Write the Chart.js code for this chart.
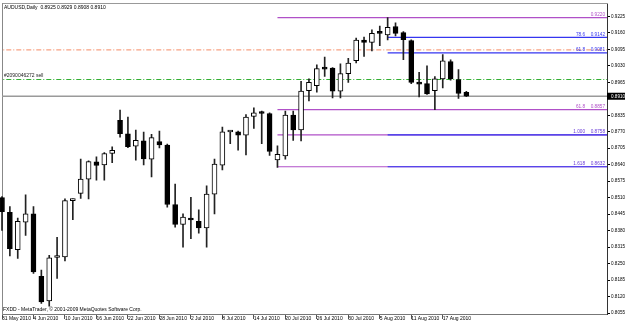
<!DOCTYPE html>
<html><head><meta charset="utf-8">
<script src="https://cdn.jsdelivr.net/npm/chart.js@4.4.0/dist/chart.umd.min.js"></script>
<style>html,body{margin:0;padding:0;background:#fff;overflow:hidden}</style>
</head><body>
<canvas id="c" width="625" height="323"></canvas>
<script>
// ---- data ----
const symbolTitle = 'AUDUSD,Daily';
const headerOHLC = [0.8925, 0.8929, 0.8908, 0.8910];
const copyrightText = 'FXDD - MetaTrader, \u00A9 2001-2009 MetaQuotes Software Corp.';

const opens  = [0.8510,0.8452,0.8305,0.8413,0.8446,0.8200,0.8103,0.8274,0.8276,0.8498,
                0.8527,0.8583,0.8651,0.8639,0.8684,0.8815,0.8762,0.8713,0.8734,0.8662,
                0.8731,0.8717,0.8483,0.8404,0.8426,0.8417,0.8391,0.8524,0.8638,0.8769,
                0.8770,0.8756,0.8830,0.8845,0.8842,0.8659,0.8675,0.8836,0.8777,0.8932,
                0.8952,0.9024,0.9021,0.8930,0.8999,0.9050,0.9132,0.9122,0.9165,0.9152,
                0.9185,0.9161,0.9130,0.8965,0.8960,0.8932,0.8978,0.9047,0.8976,0.8925];
const highs  = [0.8514,0.8475,0.8429,0.8521,0.8475,0.8224,0.8283,0.8354,0.8505,0.8505,
                0.8662,0.8655,0.8671,0.8688,0.8710,0.8855,0.8828,0.8777,0.8769,0.8760,
                0.8773,0.8721,0.8564,0.8446,0.8511,0.8462,0.8557,0.8662,0.8788,0.8775,
                0.8773,0.8838,0.8864,0.8851,0.8845,0.8714,0.8851,0.8851,0.8969,0.8979,
                0.9034,0.9064,0.9023,0.9038,0.9060,0.9139,0.9143,0.9172,0.9187,0.9220,
                0.9200,0.9165,0.9133,0.9004,0.9030,0.8988,0.9074,0.9054,0.9015,0.8929];
const lows   = [0.8381,0.8280,0.8270,0.8361,0.8211,0.8093,0.8082,0.8191,0.8260,0.8423,
                0.8507,0.8505,0.8579,0.8579,0.8648,0.8749,0.8707,0.8658,0.8639,0.8592,
                0.8706,0.8472,0.8394,0.8315,0.8348,0.8370,0.8315,0.8446,0.8619,0.8723,
                0.8697,0.8679,0.8783,0.8723,0.8677,0.8629,0.8662,0.8736,0.8734,0.8892,
                0.8926,0.8988,0.8903,0.8903,0.8965,0.9041,0.9067,0.9089,0.9109,0.9132,
                0.9148,0.9054,0.8960,0.8907,0.8917,0.8857,0.8943,0.8973,0.8901,0.8908];
const closes = [0.8455,0.8309,0.8417,0.8446,0.8217,0.8099,0.8273,0.8278,0.8498,0.8501,
                0.8583,0.8652,0.8637,0.8684,0.8697,0.8762,0.8711,0.8736,0.8663,0.8747,
                0.8718,0.8483,0.8404,0.8433,0.8422,0.8391,0.8524,0.8642,0.8770,0.8772,
                0.8756,0.8828,0.8845,0.8842,0.8692,0.8681,0.8836,0.8777,0.8930,0.8965,
                0.9019,0.9017,0.8930,0.8999,0.9041,0.9132,0.9122,0.9158,0.9158,0.9182,
                0.9158,0.9133,0.8965,0.8958,0.8919,0.8979,0.9050,0.8978,0.8921,0.8910];

const tickIndex  = [0,4,8,12,16,20,24,28,32,36,40,44,48,52,56];
const tickLabels = ['31 May 2010','4 Jun 2010','10 Jun 2010','16 Jun 2010','22 Jun 2010','28 Jun 2010',
                    '2 Jul 2010','8 Jul 2010','14 Jul 2010','20 Jul 2010','26 Jul 2010','30 Jul 2010',
                    '5 Aug 2010','11 Aug 2010','17 Aug 2010'];
const priceTicks = [0.9225,0.9160,0.9095,0.9030,0.8965,0.8835,0.8770,0.8705,0.8640,0.8575,
                    0.8510,0.8445,0.8380,0.8315,0.8250,0.8185,0.8120,0.8055];

// Fibonacci objects
const fibPurpleLevels = [0.9220, 0.8857, 0.8758, 0.8632];
const fibPurpleStart  = 35;
const fibBlueLevels   = [0.9142, 0.9081, 0.8758, 0.8632];
const fibBlueStart    = 49;
const fibLabelValues  = [0.9220, 0.9142, 0.9081, 0.8857, 0.8758, 0.8632];
const fibLabelTags    = ['', '78.6', '61.8', '61.8', '1.000', '1.618'];
const fibLabelTexts   = ['0.9220', '0.9142', '0.9081', '0.8857', '0.8758', '0.8632'];

// order / level lines
const orderLevel = 0.8976;
const orderText  = '#2090046272 sell';
const stopLevel  = 0.9093;
const bidLevel   = 0.8910;
const bidText    = '0.8910';

// ---- styles ----
const FONT = '"Liberation Sans", Arial, sans-serif';
const PURPLE = '#B050C8';
const BLUE = '#3535F0';
const fibLabelColors = [PURPLE, BLUE, BLUE, PURPLE, '#6a3ad8', '#6a3ad8'];
const X_MIN = 0, X_MAX = 76.87, X_END = 80;

const idx = opens.map((_, i) => i);
const bodyData = idx.map(i => ({x: i, y: [opens[i], closes[i]]}));
const wickData = idx.map(i => ({x: i, y: [lows[i], highs[i]]}));
const bodyFill = idx.map(i => closes[i] >= opens[i] ? '#ffffff' : '#000000');

function hline(v, x0, x1, color, width, dash, order) {
  return {type: 'line', data: [{x: x0, y: v}, {x: x1, y: v}], borderColor: color,
          borderWidth: width, borderDash: dash || [], pointRadius: 0, tension: 0,
          fill: false, order: order};
}

const datasets = [
  {type: 'bar', data: bodyData, backgroundColor: bodyFill, borderColor: '#000',
   borderWidth: 1, borderSkipped: false, barThickness: 5, minBarLength: 2,
   grouped: false, clip: 2, order: 0},
  {type: 'bar', data: wickData, backgroundColor: '#222', borderWidth: 0,
   barThickness: 1, grouped: false, clip: 2, order: 1},
];
fibPurpleLevels.forEach(v => datasets.push(hline(v, fibPurpleStart, X_END, PURPLE, 1.2, null, 3)));
fibBlueLevels.forEach(v => datasets.push(hline(v, fibBlueStart, X_END, BLUE, 1.2, null, 2)));
datasets.push(hline(stopLevel, -2, X_END, '#F7A283', 1.2, [5, 2, 1, 2], 4));
datasets.push(hline(orderLevel, -2, X_END, '#34B034', 1.2, [5, 2, 1, 2], 4));
datasets.push(hline(bidLevel, -2, X_END, '#9a9a9a', 1.5, null, 5));

const textPlugin = {
  id: 'mtText',
  afterDatasetsDraw(chart) {
    const {ctx, chartArea: a, scales: {y}} = chart;
    ctx.save();
    ctx.font = '5px ' + FONT;
    ctx.textBaseline = 'middle';
    ctx.textAlign = 'left';
    ctx.fillStyle = '#000';
    ctx.fillText(symbolTitle + '  ' + headerOHLC.map(v => v.toFixed(4)).join(' '), a.left + 2, a.top + 3.5);
    ctx.fillText(copyrightText, a.left + 1, a.bottom - 4);
    ctx.fillStyle = '#222';
    ctx.fillText(orderText, a.left + 2, y.getPixelForValue(orderLevel) - 3.5);
    ctx.textAlign = 'right';
    ctx.font = '4.7px ' + FONT;
    fibLabelValues.forEach((v, i) => {
      const py = y.getPixelForValue(v) - 3;
      ctx.fillStyle = fibLabelColors[i];
      ctx.fillText(fibLabelTexts[i], a.right - 2, py);
      if (fibLabelTags[i]) ctx.fillText(fibLabelTags[i], a.right - 22, py);
    });
    ctx.restore();
  },
  afterDraw(chart) {
    const {ctx, chartArea: a, scales: {y}} = chart;
    const py = y.getPixelForValue(bidLevel);
    ctx.save();
    ctx.fillStyle = '#000';
    ctx.fillRect(a.right, py - 3.5, chart.width - a.right, 7);
    ctx.fillStyle = '#fff';
    ctx.font = '4.6px ' + FONT;
    ctx.textBaseline = 'middle';
    ctx.fillText(bidText, a.right + 4, py);
    ctx.restore();
  }
};

new Chart(document.getElementById('c'), {
  type: 'bar',
  data: {datasets},
  options: {
    responsive: false, animation: false, devicePixelRatio: 1,
    layout: {padding: {left: 2, top: 2, right: 0, bottom: 0}},
    plugins: {legend: {display: false}, tooltip: {enabled: false}},
    scales: {
      x: {
        type: 'linear', position: 'bottom', min: X_MIN, max: X_MAX, offset: false,
        afterBuildTicks: s => { s.ticks = tickIndex.map(v => ({value: v})); },
        afterFit: s => { s.height = 9; },
        ticks: {autoSkip: false, maxRotation: 0, minRotation: 0, align: 'start', padding: -3.5,
                color: '#000', font: {family: FONT, size: 5},
                callback: v => { const k = tickIndex.indexOf(v); return k >= 0 ? tickLabels[k] : ''; }},
        grid: {display: true, drawOnChartArea: false, offset: false, tickLength: 5, color: '#555'},
        border: {display: true, color: '#777', width: 1}
      },
      y: {
        type: 'linear', position: 'right', min: 0.80511, max: 0.92748,
        afterBuildTicks: s => { s.ticks = priceTicks.map(v => ({value: v})); },
        afterFit: s => { s.width = 18; },
        ticks: {autoSkip: false, padding: 1, color: '#000', font: {family: FONT, size: 4.6},
                callback: v => v.toFixed(4)},
        grid: {display: true, drawOnChartArea: false, tickLength: 3, color: '#000'},
        border: {display: true, color: '#333', width: 1}
      },
      xTop: {
        type: 'linear', position: 'top', display: true,
        afterFit: s => { s.height = 0; },
        ticks: {display: false}, grid: {display: false},
        border: {display: true, color: '#999', width: 1}
      },
      yLeft: {
        type: 'linear', position: 'left', display: true,
        afterFit: s => { s.width = 0; },
        ticks: {display: false}, grid: {display: false},
        border: {display: true, color: '#888', width: 1}
      }
    }
  },
  plugins: [textPlugin]
});
</script>
</body></html>
